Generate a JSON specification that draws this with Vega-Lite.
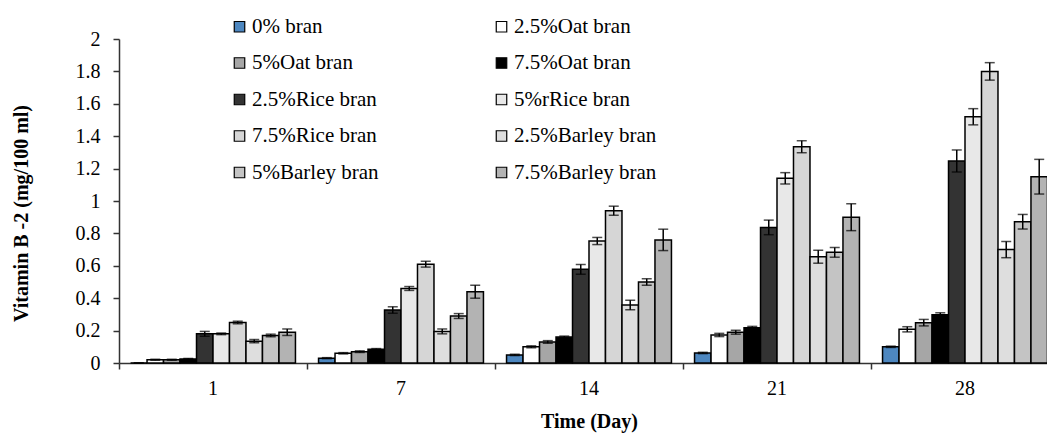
{
  "$schema": "https://vega.github.io/schema/vega-lite/v6.json",
  "width": 940,
  "height": 324,
  "autosize": {"type": "none"},
  "padding": {"left": 119, "top": 39, "right": 0, "bottom": 70},
  "background": "white",
  "config": {
    "view": {"stroke": null},
    "font": "Liberation Serif",
    "axis": {
      "domainColor": "#333333",
      "domainWidth": 1.5,
      "tickColor": "#333333",
      "tickWidth": 1.5,
      "labelColor": "black",
      "titleColor": "black",
      "labelFont": "Liberation Serif",
      "titleFont": "Liberation Serif",
      "labelFontSize": 20,
      "titleFontSize": 20,
      "titleFontWeight": "bold",
      "labelOverlap": false,
      "grid": false
    }
  },
  "data": {
    "values": [
      {"day": 1, "series": "0% bran", "v": 0, "lo": 0, "hi": 0},
      {"day": 1, "series": "2.5%Oat bran", "v": 0.02, "lo": 0.017, "hi": 0.023},
      {"day": 1, "series": "5%Oat bran", "v": 0.02, "lo": 0.017, "hi": 0.023},
      {"day": 1, "series": "7.5%Oat bran", "v": 0.025, "lo": 0.022, "hi": 0.028},
      {"day": 1, "series": "2.5%Rice bran", "v": 0.18, "lo": 0.165, "hi": 0.195},
      {"day": 1, "series": "5%rRice bran", "v": 0.18, "lo": 0.175, "hi": 0.185},
      {"day": 1, "series": "7.5%Rice bran", "v": 0.25, "lo": 0.242, "hi": 0.258},
      {"day": 1, "series": "2.5%Barley bran", "v": 0.135, "lo": 0.125, "hi": 0.145},
      {"day": 1, "series": "5%Barley bran", "v": 0.17, "lo": 0.162, "hi": 0.178},
      {"day": 1, "series": "7.5%Barley bran", "v": 0.19, "lo": 0.17, "hi": 0.21},

      {"day": 7, "series": "0% bran", "v": 0.03, "lo": 0.027, "hi": 0.033},
      {"day": 7, "series": "2.5%Oat bran", "v": 0.06, "lo": 0.056, "hi": 0.064},
      {"day": 7, "series": "5%Oat bran", "v": 0.07, "lo": 0.065, "hi": 0.075},
      {"day": 7, "series": "7.5%Oat bran", "v": 0.085, "lo": 0.081, "hi": 0.089},
      {"day": 7, "series": "2.5%Rice bran", "v": 0.327, "lo": 0.307, "hi": 0.347},
      {"day": 7, "series": "5%rRice bran", "v": 0.46, "lo": 0.448, "hi": 0.472},
      {"day": 7, "series": "7.5%Rice bran", "v": 0.61, "lo": 0.592, "hi": 0.628},
      {"day": 7, "series": "2.5%Barley bran", "v": 0.195, "lo": 0.18, "hi": 0.21},
      {"day": 7, "series": "5%Barley bran", "v": 0.29, "lo": 0.275, "hi": 0.305},
      {"day": 7, "series": "7.5%Barley bran", "v": 0.44, "lo": 0.4, "hi": 0.48},

      {"day": 14, "series": "0% bran", "v": 0.05, "lo": 0.046, "hi": 0.054},
      {"day": 14, "series": "2.5%Oat bran", "v": 0.1, "lo": 0.094, "hi": 0.106},
      {"day": 14, "series": "5%Oat bran", "v": 0.13, "lo": 0.122, "hi": 0.138},
      {"day": 14, "series": "7.5%Oat bran", "v": 0.16, "lo": 0.154, "hi": 0.166},
      {"day": 14, "series": "2.5%Rice bran", "v": 0.578, "lo": 0.548, "hi": 0.608},
      {"day": 14, "series": "5%rRice bran", "v": 0.753, "lo": 0.731, "hi": 0.775},
      {"day": 14, "series": "7.5%Rice bran", "v": 0.94, "lo": 0.912, "hi": 0.968},
      {"day": 14, "series": "2.5%Barley bran", "v": 0.358, "lo": 0.328, "hi": 0.388},
      {"day": 14, "series": "5%Barley bran", "v": 0.5, "lo": 0.48, "hi": 0.52},
      {"day": 14, "series": "7.5%Barley bran", "v": 0.76, "lo": 0.694, "hi": 0.826},

      {"day": 21, "series": "0% bran", "v": 0.062, "lo": 0.058, "hi": 0.066},
      {"day": 21, "series": "2.5%Oat bran", "v": 0.173, "lo": 0.163, "hi": 0.183},
      {"day": 21, "series": "5%Oat bran", "v": 0.19, "lo": 0.178, "hi": 0.202},
      {"day": 21, "series": "7.5%Oat bran", "v": 0.218, "lo": 0.21, "hi": 0.226},
      {"day": 21, "series": "2.5%Rice bran", "v": 0.837, "lo": 0.792, "hi": 0.882},
      {"day": 21, "series": "5%rRice bran", "v": 1.14, "lo": 1.105, "hi": 1.175},
      {"day": 21, "series": "7.5%Rice bran", "v": 1.335, "lo": 1.298, "hi": 1.372},
      {"day": 21, "series": "2.5%Barley bran", "v": 0.656, "lo": 0.616, "hi": 0.696},
      {"day": 21, "series": "5%Barley bran", "v": 0.683, "lo": 0.653, "hi": 0.713},
      {"day": 21, "series": "7.5%Barley bran", "v": 0.9, "lo": 0.817, "hi": 0.983},

      {"day": 28, "series": "0% bran", "v": 0.1, "lo": 0.096, "hi": 0.104},
      {"day": 28, "series": "2.5%Oat bran", "v": 0.208, "lo": 0.192, "hi": 0.224},
      {"day": 28, "series": "5%Oat bran", "v": 0.249, "lo": 0.229, "hi": 0.269},
      {"day": 28, "series": "7.5%Oat bran", "v": 0.298, "lo": 0.286, "hi": 0.31},
      {"day": 28, "series": "2.5%Rice bran", "v": 1.247, "lo": 1.179, "hi": 1.315},
      {"day": 28, "series": "5%rRice bran", "v": 1.52, "lo": 1.47, "hi": 1.57},
      {"day": 28, "series": "7.5%Rice bran", "v": 1.8, "lo": 1.746, "hi": 1.854},
      {"day": 28, "series": "2.5%Barley bran", "v": 0.7, "lo": 0.65, "hi": 0.75},
      {"day": 28, "series": "5%Barley bran", "v": 0.872, "lo": 0.827, "hi": 0.917},
      {"day": 28, "series": "7.5%Barley bran", "v": 1.15, "lo": 1.043, "hi": 1.257}
    ]
  },
  "encoding": {
    "x": {
      "field": "day",
      "type": "ordinal",
      "scale": {"paddingInner": 0, "paddingOuter": 0},
      "axis": {
        "title": "Time (Day)",
        "labelAngle": 0,
        "bandPosition": 0,
        "tickSize": 6,
        "labelPadding": 9,
        "titleBaseline": "middle",
        "titleY": 58
      }
    },
    "xOffset": {
      "field": "series",
      "type": "nominal",
      "sort": ["0% bran", "2.5%Oat bran", "5%Oat bran", "7.5%Oat bran", "2.5%Rice bran", "5%rRice bran", "7.5%Rice bran", "2.5%Barley bran", "5%Barley bran", "7.5%Barley bran"],
      "scale": {"paddingInner": 0, "paddingOuter": 0.7}
    }
  },
  "layer": [
    {
      "mark": {"type": "bar", "stroke": "black", "strokeWidth": 1.5},
      "encoding": {
        "y": {
          "field": "v",
          "type": "quantitative",
          "scale": {"domain": [0, 2], "nice": false},
          "axis": {
            "title": "Vitamin B -2 (mg/100 ml)",
            "values": [0, 0.2, 0.4, 0.6, 0.8, 1, 1.2, 1.4, 1.6, 1.8, 2],
            "format": "~g",
            "tickSize": 6,
            "labelPadding": 13,
            "titleBaseline": "middle",
            "titleAlign": "center",
            "titleX": -98,
            "titleY": 174
          }
        },
        "color": {
          "field": "series",
          "type": "nominal",
          "sort": ["0% bran", "2.5%Oat bran", "5%Oat bran", "7.5%Oat bran", "2.5%Rice bran", "5%rRice bran", "7.5%Rice bran", "2.5%Barley bran", "5%Barley bran", "7.5%Barley bran"],
          "scale": {
            "range": ["#4d87c0", "#ffffff", "#a6a6a6", "#000000", "#333333", "#e8e8e8", "#d6d6d6", "#dedede", "#c4c4c4", "#b3b3b3"]
          },
          "legend": {
            "title": null,
            "orient": "none",
            "legendX": 110,
            "legendY": -23,
            "columns": 2,
            "direction": "horizontal",
            "padding": 0,
            "symbolType": "square",
            "symbolSize": 110,
            "symbolStrokeColor": "black",
            "symbolStrokeWidth": 1.2,
            "labelFont": "Liberation Serif",
            "labelFontSize": 21,
            "labelColor": "black",
            "labelOffset": 2,
            "labelLimit": 300,
            "rowPadding": 14.5,
            "columnPadding": 112
          }
        }
      }
    },
    {
      "mark": {"type": "rule", "color": "black", "strokeWidth": 1.5},
      "encoding": {
        "y": {
          "field": "lo",
          "type": "quantitative",
          "scale": {"domain": [0, 2], "nice": false},
          "axis": {
            "title": "Vitamin B -2 (mg/100 ml)",
            "values": [0, 0.2, 0.4, 0.6, 0.8, 1, 1.2, 1.4, 1.6, 1.8, 2],
            "format": "~g",
            "tickSize": 6,
            "labelPadding": 13,
            "titleBaseline": "middle",
            "titleAlign": "center",
            "titleX": -98,
            "titleY": 174
          }
        },
        "y2": {"field": "hi"}
      }
    },
    {
      "mark": {"type": "tick", "color": "black", "size": 10, "thickness": 1.5, "orient": "horizontal"},
      "encoding": {
        "y": {
          "field": "hi",
          "type": "quantitative",
          "scale": {"domain": [0, 2], "nice": false},
          "axis": {
            "title": "Vitamin B -2 (mg/100 ml)",
            "values": [0, 0.2, 0.4, 0.6, 0.8, 1, 1.2, 1.4, 1.6, 1.8, 2],
            "format": "~g",
            "tickSize": 6,
            "labelPadding": 13,
            "titleBaseline": "middle",
            "titleAlign": "center",
            "titleX": -98,
            "titleY": 174
          }
        }
      }
    },
    {
      "mark": {"type": "tick", "color": "black", "size": 10, "thickness": 1.5, "orient": "horizontal"},
      "encoding": {
        "y": {
          "field": "lo",
          "type": "quantitative",
          "scale": {"domain": [0, 2], "nice": false},
          "axis": {
            "title": "Vitamin B -2 (mg/100 ml)",
            "values": [0, 0.2, 0.4, 0.6, 0.8, 1, 1.2, 1.4, 1.6, 1.8, 2],
            "format": "~g",
            "tickSize": 6,
            "labelPadding": 13,
            "titleBaseline": "middle",
            "titleAlign": "center",
            "titleX": -98,
            "titleY": 174
          }
        }
      }
    }
  ]
}
